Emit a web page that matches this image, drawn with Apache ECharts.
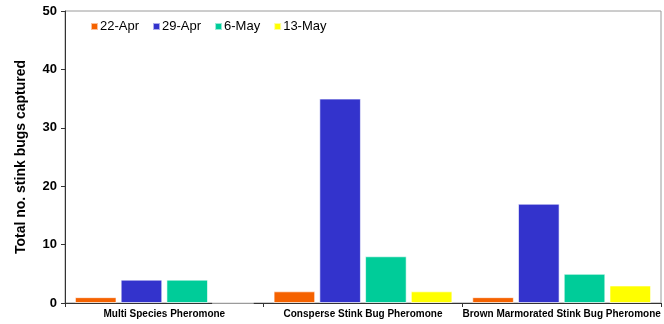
<!DOCTYPE html>
<html><head><meta charset="utf-8">
<script src="https://cdn.jsdelivr.net/npm/echarts@6/dist/echarts.min.js"></script>
<style>html,body{margin:0;padding:0;background:#fff}#c{width:664px;height:324px}</style>
</head><body><div id="c"></div>
<script>
const categories = ['Multi Species Pheromone', 'Consperse Stink Bug Pheromone', 'Brown Marmorated Stink Bug Pheromone'];
const seriesNames = ['22-Apr', '29-Apr', '6-May', '13-May'];
const apr22 = [1, 2, 1];
const apr29 = [4, 35, 17];
const may6 = [4, 8, 5];
const may13 = [0, 2, 3];
const colors = ['#F56200', '#3333CC', '#00CC99', '#FFFF00'];
const yTicks = [0, 10, 20, 30, 40, 50];

const data = [apr22, apr29, may6, may13];
const chart = echarts.init(document.getElementById('c'), null, {renderer: 'canvas'});
chart.setOption({
  animation: false,
  grid: {left: 65, right: 3, top: 11, bottom: 21, show: true, borderColor: '#9a9a9a', borderWidth: 1, containLabel: false},
  legend: {
    data: seriesNames, left: 85, top: 15, itemWidth: 7, itemHeight: 7, itemGap: 13,
    icon: 'rect',
    textStyle: {fontFamily: 'Liberation Sans, Arial', fontSize: 13, color: '#000', padding: [0,0,0,-3]}
  },
  xAxis: {
    type: 'category', data: categories,
    axisLine: {lineStyle: {color: '#333', width: 1}},
    axisTick: {show: true, length: 4, lineStyle: {color: '#333'}},
    axisLabel: {fontFamily: 'Liberation Sans, Arial', fontSize: 10, fontWeight: 'bold', color: '#000', margin: 6, interval: 0}
  },
  yAxis: {
    type: 'value', min: 0, max: 50, interval: 10,
    axisLine: {show: true, lineStyle: {color: '#333', width: 1}},
    axisTick: {show: true, length: 4, lineStyle: {color: '#333'}},
    splitLine: {show: false},
    axisLabel: {fontFamily: 'Liberation Sans, Arial', fontSize: 13, fontWeight: 'bold', color: '#000', margin: 8,
      formatter: v => yTicks.includes(v) ? String(v) : ''},
    name: 'Total no. stink bugs captured', nameLocation: 'middle', nameGap: 37,
    nameTextStyle: {fontFamily: 'Liberation Sans, Arial', fontSize: 14, fontWeight: 'bold', color: '#000'}
  },
  series: seriesNames.map((n, i) => ({
    name: n, type: 'bar', data: data[i],
    barGap: '10%', barCategoryGap: '10%',
    itemStyle: {color: colors[i], borderColor: 'rgba(255,255,255,0.6)', borderWidth: 1}
  }))
});
</script></body></html>
